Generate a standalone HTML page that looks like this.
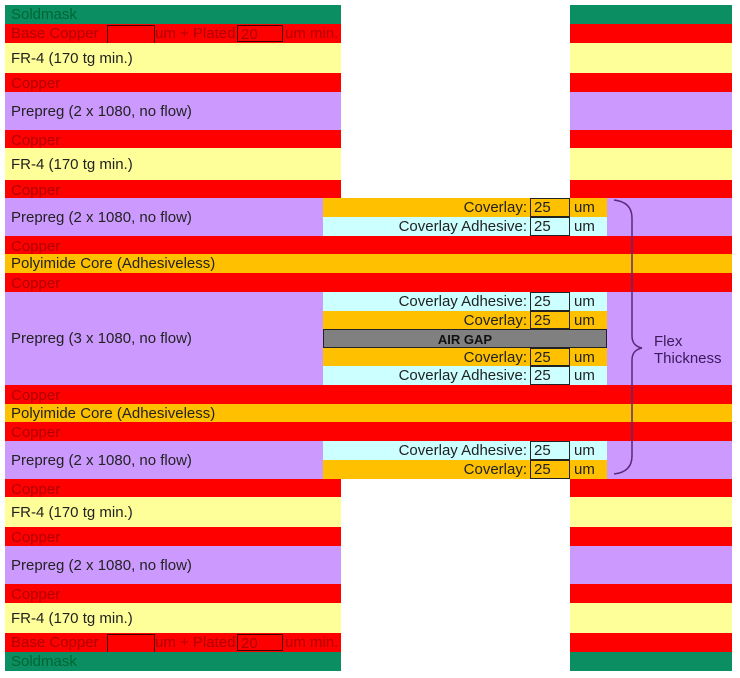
<!DOCTYPE html>
<html><head><meta charset="utf-8"><style>
body{margin:0;width:740px;height:678px;background:#fff;position:relative;overflow:hidden;font-family:"Liberation Sans",Arial,sans-serif;font-size:15px;}
.r{position:absolute;box-sizing:border-box;white-space:nowrap;line-height:1;}
.g{background:#0b8f62;color:#063;}
.c{background:#ff0000;color:#b00000;}
.y{background:#ffff99;color:#222;}
.p{background:#cc99ff;color:#222;}
.o{background:#ffc000;}
.a{background:#ccffff;}
.t{position:absolute;left:6px;}
.lab{position:absolute;right:80px;color:#222;}
.box{position:absolute;left:207px;width:40px;border:1px solid #222;box-sizing:border-box;padding-left:3px;color:#222;}
.um{position:absolute;left:251px;color:#222;}
</style></head><body>
<!-- left column -->
<div class="r g" style="left:5px;top:5px;width:336px;height:19px"><span class="t" style="top:2px">Soldmask</span></div>
<div class="r c" style="left:5px;top:24px;width:336px;height:19px"><span class="t" style="top:2px">Base Copper</span><span style="position:absolute;left:102px;top:1px;width:46px;height:17px;border:1px solid #400"></span><span style="position:absolute;left:150px;top:2px">um + Plated</span><span style="position:absolute;left:232px;top:1px;width:46px;height:17px;border:1px solid #400;padding-left:3px;box-sizing:border-box;padding-top:1px">20</span><span style="position:absolute;left:280px;top:2px">um min.</span></div>
<div class="r y" style="left:5px;top:43px;width:336px;height:30px"><span class="t" style="top:8px">FR-4 (170 tg min.)</span></div>
<div class="r c" style="left:5px;top:73px;width:336px;height:19px"><span class="t" style="top:3px">Copper</span></div>
<div class="r p" style="left:5px;top:92px;width:336px;height:38px"><span class="t" style="top:12px">Prepreg (2 x 1080, no flow)</span></div>
<div class="r c" style="left:5px;top:130px;width:336px;height:18px"><span class="t" style="top:3px">Copper</span></div>
<div class="r y" style="left:5px;top:148px;width:336px;height:32px"><span class="t" style="top:9px">FR-4 (170 tg min.)</span></div>
<div class="r c" style="left:5px;top:180px;width:336px;height:18px"><span class="t" style="top:3px">Copper</span></div>
<!-- right column top -->
<div class="r g" style="left:570px;top:5px;width:162px;height:19px"></div>
<div class="r c" style="left:570px;top:24px;width:162px;height:19px"></div>
<div class="r y" style="left:570px;top:43px;width:162px;height:30px"></div>
<div class="r c" style="left:570px;top:73px;width:162px;height:19px"></div>
<div class="r p" style="left:570px;top:92px;width:162px;height:38px"></div>
<div class="r c" style="left:570px;top:130px;width:162px;height:18px"></div>
<div class="r y" style="left:570px;top:148px;width:162px;height:32px"></div>
<div class="r c" style="left:570px;top:180px;width:162px;height:18px"></div>
<!-- full-width middle -->
<div class="r p" style="left:5px;top:198px;width:727px;height:38px"><span class="t" style="top:12px">Prepreg (2 x 1080, no flow)</span></div>
<div class="r c" style="left:5px;top:236px;width:727px;height:18px"><span class="t" style="top:3px">Copper</span></div>
<div class="r o" style="left:5px;top:254px;width:727px;height:19px;color:#222"><span class="t" style="top:2px">Polyimide Core (Adhesiveless)</span></div>
<div class="r c" style="left:5px;top:273px;width:727px;height:19px"><span class="t" style="top:3px">Copper</span></div>
<div class="r p" style="left:5px;top:292px;width:727px;height:93px"><span class="t" style="top:39px">Prepreg (3 x 1080, no flow)</span></div>
<div class="r c" style="left:5px;top:385px;width:727px;height:19px"><span class="t" style="top:3px">Copper</span></div>
<div class="r o" style="left:5px;top:404px;width:727px;height:18px;color:#222"><span class="t" style="top:2px">Polyimide Core (Adhesiveless)</span></div>
<div class="r c" style="left:5px;top:422px;width:727px;height:19px"><span class="t" style="top:3px">Copper</span></div>
<div class="r p" style="left:5px;top:441px;width:727px;height:38px"><span class="t" style="top:12px">Prepreg (2 x 1080, no flow)</span></div>
<!-- coverlay stack -->
<div class="r o" style="left:323px;top:198px;width:284px;height:19px"><span class="lab" style="top:2px">Coverlay:</span><span class="box" style="top:0;height:19px;padding-top:1px">25</span><span class="um" style="top:2px">um</span></div>
<div class="r a" style="left:323px;top:217px;width:284px;height:19px"><span class="lab" style="top:2px">Coverlay Adhesive:</span><span class="box" style="top:0;height:19px;padding-top:1px">25</span><span class="um" style="top:2px">um</span></div>
<div class="r a" style="left:323px;top:292px;width:284px;height:19px"><span class="lab" style="top:2px">Coverlay Adhesive:</span><span class="box" style="top:0;height:19px;padding-top:1px">25</span><span class="um" style="top:2px">um</span></div>
<div class="r o" style="left:323px;top:311px;width:284px;height:18px"><span class="lab" style="top:2px">Coverlay:</span><span class="box" style="top:0;height:18px;padding-top:1px">25</span><span class="um" style="top:2px">um</span></div>
<div class="r" style="left:323px;top:329px;width:284px;height:19px;background:#808080;border:1px solid #222;text-align:center;font-weight:bold;font-size:13px;color:#111;padding-top:3px">AIR GAP</div>
<div class="r o" style="left:323px;top:348px;width:284px;height:18px"><span class="lab" style="top:2px">Coverlay:</span><span class="box" style="top:0;height:18px;padding-top:1px">25</span><span class="um" style="top:2px">um</span></div>
<div class="r a" style="left:323px;top:366px;width:284px;height:19px"><span class="lab" style="top:2px">Coverlay Adhesive:</span><span class="box" style="top:0;height:19px;padding-top:1px">25</span><span class="um" style="top:2px">um</span></div>
<div class="r a" style="left:323px;top:441px;width:284px;height:19px"><span class="lab" style="top:2px">Coverlay Adhesive:</span><span class="box" style="top:0;height:19px;padding-top:1px">25</span><span class="um" style="top:2px">um</span></div>
<div class="r o" style="left:323px;top:460px;width:284px;height:19px"><span class="lab" style="top:2px">Coverlay:</span><span class="box" style="top:0;height:19px;padding-top:1px">25</span><span class="um" style="top:2px">um</span></div>
<!-- bottom left -->
<div class="r c" style="left:5px;top:479px;width:336px;height:18px"><span class="t" style="top:3px">Copper</span></div>
<div class="r y" style="left:5px;top:497px;width:336px;height:30px"><span class="t" style="top:8px">FR-4 (170 tg min.)</span></div>
<div class="r c" style="left:5px;top:527px;width:336px;height:19px"><span class="t" style="top:3px">Copper</span></div>
<div class="r p" style="left:5px;top:546px;width:336px;height:38px"><span class="t" style="top:12px">Prepreg (2 x 1080, no flow)</span></div>
<div class="r c" style="left:5px;top:584px;width:336px;height:19px"><span class="t" style="top:3px">Copper</span></div>
<div class="r y" style="left:5px;top:603px;width:336px;height:30px"><span class="t" style="top:8px">FR-4 (170 tg min.)</span></div>
<div class="r c" style="left:5px;top:633px;width:336px;height:19px"><span class="t" style="top:2px">Base Copper</span><span style="position:absolute;left:102px;top:1px;width:46px;height:17px;border:1px solid #400"></span><span style="position:absolute;left:150px;top:2px">um + Plated</span><span style="position:absolute;left:232px;top:1px;width:46px;height:17px;border:1px solid #400;padding-left:3px;box-sizing:border-box;padding-top:1px">20</span><span style="position:absolute;left:280px;top:2px">um min.</span></div>
<div class="r g" style="left:5px;top:652px;width:336px;height:19px"><span class="t" style="top:2px">Soldmask</span></div>
<!-- bottom right -->
<div class="r c" style="left:570px;top:479px;width:162px;height:18px"></div>
<div class="r y" style="left:570px;top:497px;width:162px;height:30px"></div>
<div class="r c" style="left:570px;top:527px;width:162px;height:19px"></div>
<div class="r p" style="left:570px;top:546px;width:162px;height:38px"></div>
<div class="r c" style="left:570px;top:584px;width:162px;height:19px"></div>
<div class="r y" style="left:570px;top:603px;width:162px;height:30px"></div>
<div class="r c" style="left:570px;top:633px;width:162px;height:19px"></div>
<div class="r g" style="left:570px;top:652px;width:162px;height:19px"></div>
<!-- brace -->
<svg style="position:absolute;left:0;top:0" width="740" height="678">
<path d="M614,200 Q632,202 632,218 L632,336 Q632,346 642,348 Q632,350 632,360 L632,456 Q632,472 614,474" fill="none" stroke="#5a2a7a" stroke-width="1.5"/>
</svg>
<div class="r" style="left:654px;top:334px;color:#3a1a5a">Flex</div>
<div class="r" style="left:654px;top:351px;color:#3a1a5a">Thickness</div>
</body></html>
